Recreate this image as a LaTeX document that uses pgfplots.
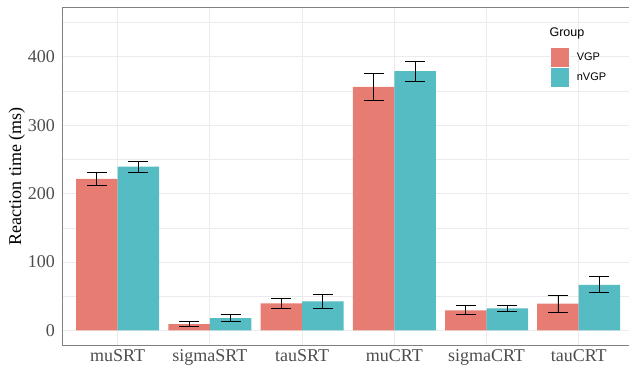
\documentclass[border=0pt]{standalone}
\usepackage{pgfplots}
\pgfplotsset{compat=1.18}
\usepackage{fontspec}
\setmainfont{Liberation Serif}
\newfontfamily\legfont{Liberation Sans}
\definecolor{cVGP}{RGB}{231,125,114}
\definecolor{cNVGP}{RGB}{84,188,194}
\definecolor{gridc}{RGB}{235,235,235}
\definecolor{tickc}{RGB}{77,77,77}
\definecolor{borderc}{RGB}{128,128,128}
\begin{document}
\begin{tikzpicture}
\begin{axis}[
  scale only axis,
  width=566.7pt, height=338.4pt,
  xmin=0.4, xmax=6.545,
  ymin=-22.5, ymax=472.5,
  ybar, bar width=0.45,
  xtick={1,2,3,4,5,6},
  xticklabels={muSRT,sigmaSRT,tauSRT,muCRT,sigmaCRT,tauCRT},
  ytick={0,100,200,300,400},
  minor ytick={50,150,250,350,450},
  grid=both,
  major grid style={draw=gridc, line width=0.8pt},
  minor grid style={draw=gridc, line width=0.5pt},
  major tick length=0pt, minor tick length=0pt,
  tick style={draw=none},
  /pgf/number format/assume math mode=true,
  ticklabel style={font=\fontsize{18}{20}\selectfont, text=tickc},
  yticklabel style={inner sep=0pt, xshift=-7.3pt},
  xticklabel style={inner sep=0pt, yshift=-4pt},
  axis line style={draw=none},
  legend cell align=left,
  legend style={at={(rel axis cs:0.8594,0.8818)}, anchor=north west, draw=none, fill=none, inner sep=0pt, row sep=0pt, font=\legfont\fontsize{11}{12}\selectfont, nodes={inner sep=0pt}, /tikz/every odd column/.append style={column sep=7.7pt}},
  legend image code/.code={\filldraw[#1, draw=white, line width=0.6pt] (0pt,-9.7pt) rectangle (19pt,9.7pt);},
  error bars/y dir=both, error bars/y explicit,
  error bars/error bar style={black, line width=0.9pt},
  error bars/error mark options={black, line width=0.9pt, rotate=90, mark size=10pt},
]
\addplot[fill=cVGP, draw=none, bar shift=-0.225] table[x=x, y=y, y error=e] {
x y e
1 221.5 9.2
2 9.0 3.9
3 39.4 6.9
4 356.0 20.0
5 29.3 6.6
6 38.9 12.2
};
\addlegendentry{VGP}
\addplot[fill=cNVGP, draw=none, bar shift=0.225] table[x=x, y=y, y error=e] {
x y e
1 239.4 8.0
2 18.0 5.3
3 42.4 10.4
4 379.0 14.3
5 32.0 5.1
6 66.6 11.7
};
\addlegendentry{nVGP}
\coordinate (sw) at (rel axis cs:0,0);
\coordinate (nw) at (rel axis cs:0,1);
\coordinate (ne) at (rel axis cs:1,1);
\coordinate (se) at (rel axis cs:1,0);
\coordinate (ml) at (rel axis cs:0,0.5);
\coordinate (lg) at (rel axis cs:0.8594,0.8818);
\end{axis}
\draw[borderc, line width=1pt] (se) -- (sw) -- (nw) -- (ne);
\path (ml) ++(-45.6pt,0) node[rotate=90, anchor=center, font=\fontsize{18}{20}\selectfont] {Reaction time (ms)};
\path (lg) ++(0,8pt) node[anchor=south west, inner sep=0pt, font=\legfont\fontsize{12.5}{14}\selectfont] {Group};
\pgfresetboundingbox
\path ([shift={(-62.3pt,-25.3pt)}]sw) rectangle ([shift={(0pt,7.3pt)}]ne);
\end{tikzpicture}
\end{document}
